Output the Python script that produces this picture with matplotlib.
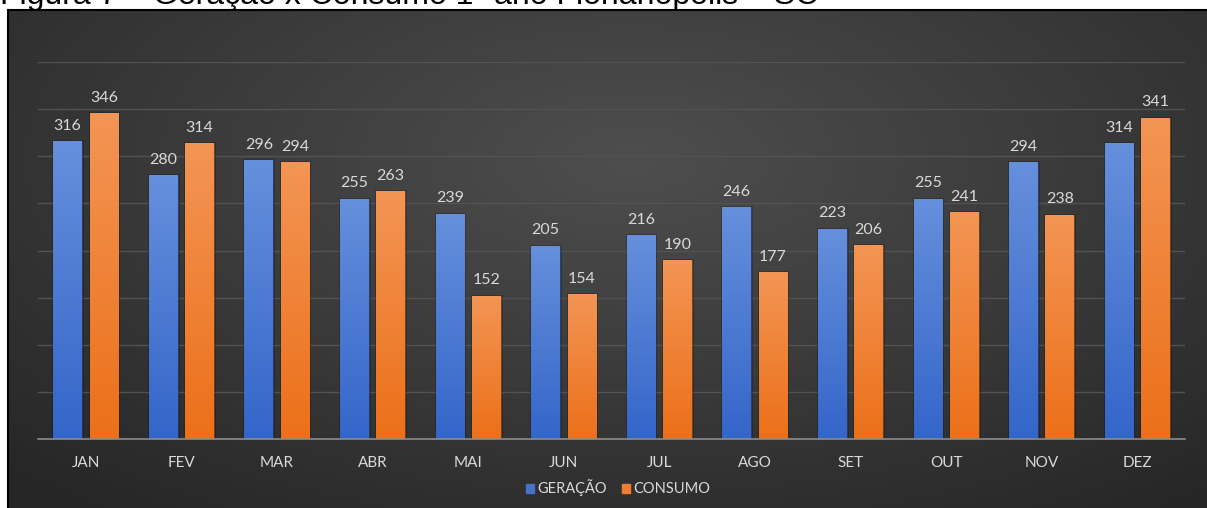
import numpy as np
import matplotlib.pyplot as plt
from matplotlib.colors import LinearSegmentedColormap
from matplotlib.patches import Patch

meses = ['JAN', 'FEV', 'MAR', 'ABR', 'MAI', 'JUN', 'JUL', 'AGO', 'SET', 'OUT', 'NOV', 'DEZ']
geracao = [316, 280, 296, 255, 239, 205, 216, 246, 223, 255, 294, 314]
consumo = [346, 314, 294, 263, 152, 154, 190, 177, 206, 241, 238, 341]
titulo = 'Figura 7 – Geração x Consumo 1º ano Florianópolis – SC'

W, H = 1207, 508
fig = plt.figure(figsize=(W / 100, H / 100), dpi=100)
fig.patch.set_facecolor('white')

# titulo da figura (cortado pela borda de cima)
fig.text(0, 1 - 4 / H, titulo, fontsize=23, family='Liberation Sans',
         color='black', va='baseline', ha='left')

# fundo escuro com degrade radial
bg = fig.add_axes([8 / W, 0, 1 - 8 / W, 1 - 10 / H])
yy, xx = np.mgrid[0:1:300j, 0:1:700j]
r = np.sqrt(((xx - 0.52) / 0.75) ** 2 + ((yy - 0.30) / 0.9) ** 2)
r = np.clip(r, 0, 1)
bg_cmap = LinearSegmentedColormap.from_list('bg', ['#4e4e4e', '#3a3a3a', '#262626'])
bg.imshow(r, cmap=bg_cmap, aspect='auto', extent=[0, 1, 1, 0], interpolation='bilinear')
bg.set_xlim(0, 1)
bg.set_ylim(1, 0)
bg.set_xticks([])
bg.set_yticks([])
for s in ['top', 'left']:
    bg.spines[s].set_color('black')
    bg.spines[s].set_linewidth(1.5)
for s in ['right', 'bottom']:
    bg.spines[s].set_visible(False)

ax = fig.add_axes([38 / W, 1 - 439 / H, (1185 - 38) / W, (439 - 62) / H])
ax.set_facecolor('none')

x = np.arange(len(meses))
larg = 0.30
desl = 0.19
cores = {'g': ('#6690dc', '#3465c9'), 'c': ('#f39555', '#ec7019')}

def barras(pos, vals, par):
    cmap = LinearSegmentedColormap.from_list('b', [par[1], par[0]])
    bs = ax.bar(pos, vals, larg, color=par[1], edgecolor=(0, 0, 0, 0.22),
                linewidth=2.0, zorder=2)
    grad = np.linspace(0, 1, 256).reshape(-1, 1)
    for b in bs:
        im = ax.imshow(grad, cmap=cmap, aspect='auto', origin='lower', zorder=3,
                       extent=[b.get_x(), b.get_x() + b.get_width(), 0, b.get_height()])
        im.set_clip_path(b)
    for p, v in zip(pos, vals):
        ax.annotate(str(v), (p, v), xytext=(0, 6), textcoords='offset points',
                    ha='center', va='bottom', fontsize=11.5, family='Lato',
                    color='#d9d9d9', zorder=4)
    return bs

barras(x - desl, geracao, cores['g'])
barras(x + desl, consumo, cores['c'])

ax.set_xlim(-0.5, len(meses) - 0.5)
ax.set_ylim(0, 400)
ax.set_yticks(np.arange(50, 401, 50))
ax.yaxis.grid(True, color='#525252', linewidth=1.0, zorder=0)
ax.set_axisbelow(True)
ax.tick_params(axis='y', left=False, labelleft=False)
ax.set_xticks(x)
ax.set_xticklabels(meses, family='Lato', fontsize=11, color='#d9d9d9')
ax.tick_params(axis='x', length=0, pad=12)
for s in ['top', 'left', 'right']:
    ax.spines[s].set_visible(False)
ax.spines['bottom'].set_color('#8c8c8c')
ax.spines['bottom'].set_linewidth(1.2)
ax.spines['bottom'].set_zorder(5)

leg = fig.legend(handles=[Patch(color='#4472c4', label='GERAÇÃO'),
                          Patch(color='#ed7d31', label='CONSUMO')],
                 loc='center', bbox_to_anchor=(618 / W, 1 - 488 / H), ncol=2,
                 frameon=False, handlelength=0.55, handleheight=0.55,
                 handletextpad=0.25, columnspacing=1.0,
                 prop={'family': 'Lato', 'size': 10.5})
for t in leg.get_texts():
    t.set_color('#d9d9d9')

fig.savefig('out.png', dpi=100, facecolor='white')
